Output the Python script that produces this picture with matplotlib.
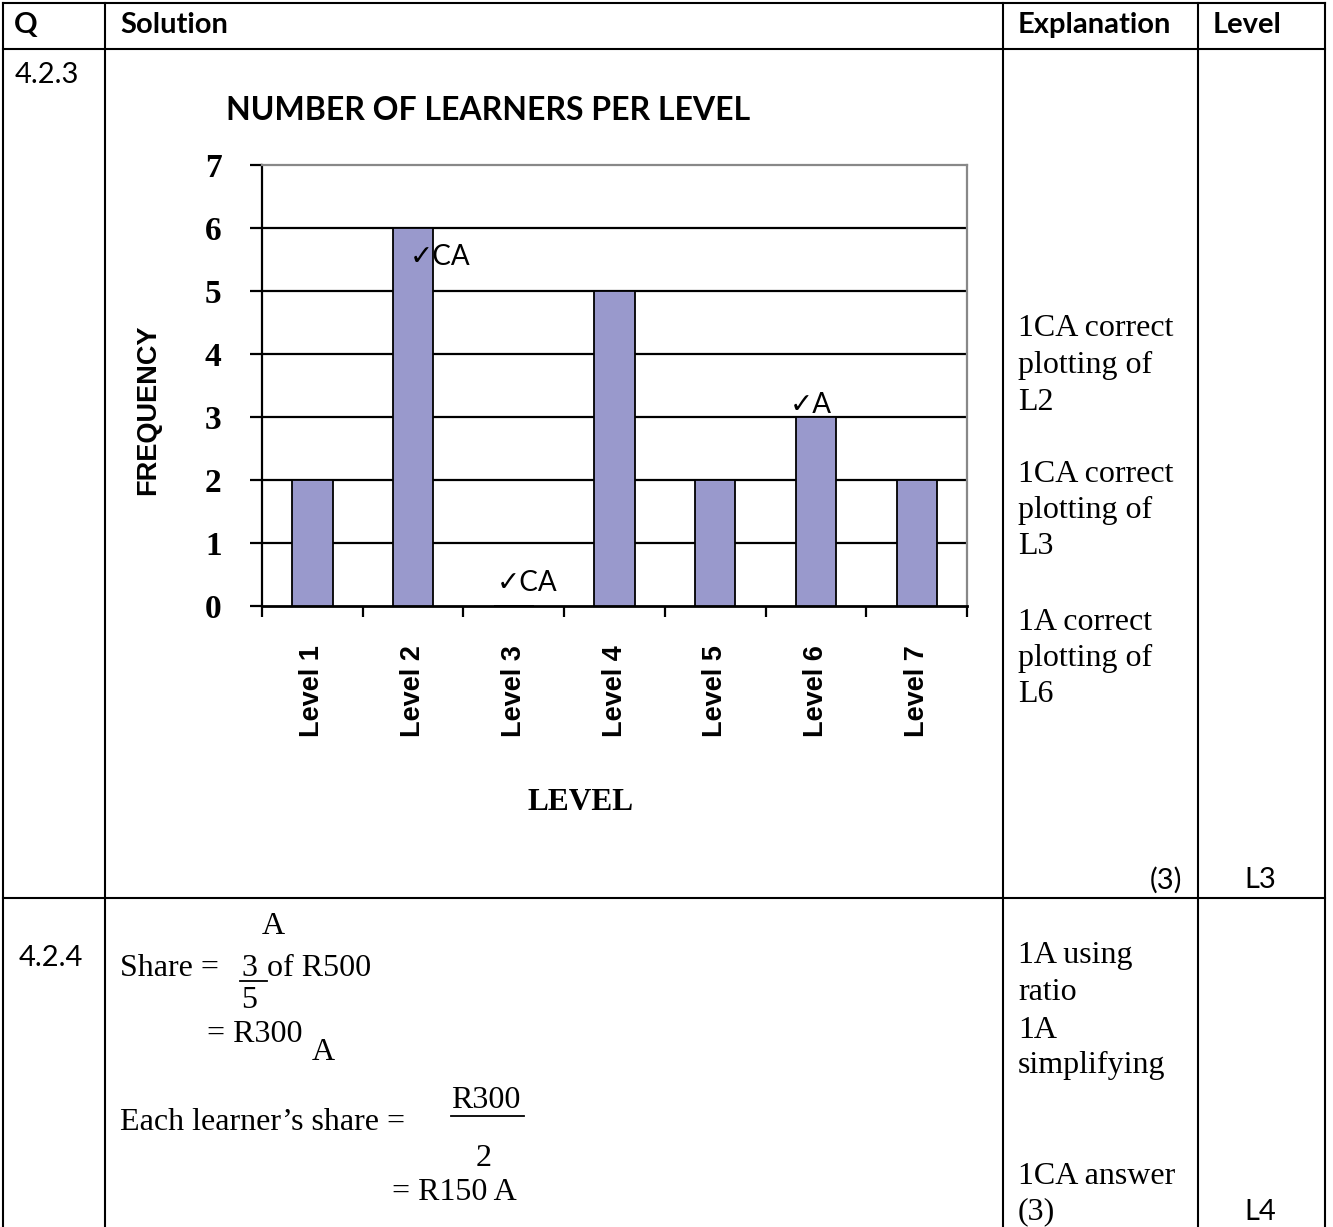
import matplotlib
matplotlib.use("Agg")
import matplotlib.pyplot as plt
from matplotlib.lines import Line2D
import numpy as np

# chart data
levels = ["Level 1", "Level 2", "Level 3", "Level 4", "Level 5", "Level 6", "Level 7"]
frequency = [2, 6, 0, 5, 2, 3, 2]
y_ticks = [0, 1, 2, 3, 4, 5, 6, 7]

# table text
headers = ["Q", "Solution", "Explanation", "Level"]
expl_row1 = ["1CA correct", "plotting of", "L2", "1CA correct", "plotting of", "L3",
             "1A correct", "plotting of", "L6"]
expl_row2 = ["1A using", "ratio", "1A", "simplifying", "1CA answer", "(3)"]

W, H = 1333, 1227
fig = plt.figure(figsize=(W / 100, H / 100), dpi=100)


def fx(x):
    return x / W


def fy(y):
    return 1 - y / H


def line(x0, y0, x1, y1, lw=1.5, color="black"):
    fig.add_artist(Line2D([fx(x0), fx(x1)], [fy(y0), fy(y1)], color=color, lw=lw,
                          transform=fig.transFigure))


def txt(x, y, s, size=23, family="Liberation Serif", weight="normal", ha="left", **kw):
    fig.text(fx(x), fy(y), s, fontsize=size, family=family, weight=weight,
             ha=ha, va="center", **kw)


# table grid
for xv in [3, 105, 1003, 1198, 1325]:
    line(xv, 3, xv, H)
for yv in [3, 49, 898]:
    line(3, yv, 1325, yv)

# header row
for s, x in zip(headers, [14, 120, 1018, 1213]):
    txt(x, 25, s, size=21, family="Lato", weight="bold")

txt(15, 75, "4.2.3", size=21, family="Lato")
txt(19, 958, "4.2.4", size=21, family="Lato")

# explanation column, row 1
for s, y in zip(expl_row1, [328, 365, 402, 474, 510, 547, 622, 658, 694]):
    txt(1018, y, s)
txt(1182, 880, "(3)", size=21, family="Lato", ha="right")
txt(1260, 880, "L3", size=21, family="Lato", ha="center")

# explanation column, row 2
for s, y in zip(expl_row2, [955, 993, 1030, 1065, 1177, 1212]):
    txt(1018, y, s)
txt(1260, 1212, "L4", size=21, family="Lato", ha="center")

# solution working, row 2
txt(273, 927, "A", ha="center")
txt(120, 968, "Share =")
txt(241, 968, "3")
line(240, 981, 267, 981, lw=1.3)
txt(267, 968, "of R500")
txt(241, 1000, "5")
txt(207, 1035, "= R300")
txt(312, 1053, "A")
txt(451, 1101, "R300")
line(451, 1116, 524, 1116, lw=1.3)
txt(120, 1122, "Each learner\u2019s share =")
txt(484, 1158, "2", ha="center")
txt(392, 1193, "= R150 A")

# bar chart
ax = fig.add_axes([fx(262), fy(606), (967 - 262) / W, (606 - 165) / H])
pos = np.arange(len(levels)) + 0.5
ax.bar(pos, frequency, width=0.4, color="#9999CC", edgecolor="black", linewidth=1.3, zorder=3)
for yv in y_ticks[1:-1]:
    ax.axhline(yv, color="black", lw=1.6, zorder=1)

ax.set_xlim(0, len(levels))
ax.set_ylim(y_ticks[0], y_ticks[-1])
ax.set_yticks(y_ticks)
ax.set_yticklabels([str(v) for v in y_ticks], fontsize=24, family="Liberation Serif", weight="bold")
ax.set_xticks(np.arange(len(levels) + 1))
ax.set_xticklabels([])
ax.set_xticks(pos, minor=True)
ax.set_xticklabels(levels, minor=True, rotation=90, fontsize=19.5,
                   family="Liberation Sans", weight="bold")
ax.tick_params(axis="x", which="major", length=8, width=1.6, direction="out")
ax.tick_params(axis="x", which="minor", length=0, pad=28)
ax.tick_params(axis="y", length=9, width=1.6, pad=20)

for side in ["top", "right"]:
    ax.spines[side].set_color("#888888")
    ax.spines[side].set_linewidth(1.6)
ax.spines["left"].set_linewidth(1.6)
ax.spines["bottom"].set_linewidth(2)

# marking ticks
mark_font = ["Lato", "DejaVu Sans"]
ax.text(1.47, 5.54, "\u2713CA", fontsize=20, family=mark_font, va="center", zorder=4)
ax.text(5.24, 3.19, "\u2713A", fontsize=20, family=mark_font, va="center", zorder=4)
ax.text(2.33, 0.37, "\u2713CA", fontsize=20, family=mark_font, va="center", zorder=4)

txt(226, 111, "NUMBER OF LEARNERS PER LEVEL", size=23, family="Lato", weight="bold")
txt(148, 410, "FREQUENCY", size=19.5, family="Liberation Sans", weight="bold",
    ha="center", rotation=90)
txt(581, 802, "LEVEL", size=22.5, weight="bold", ha="center")

fig.savefig("out.png", dpi=100)
